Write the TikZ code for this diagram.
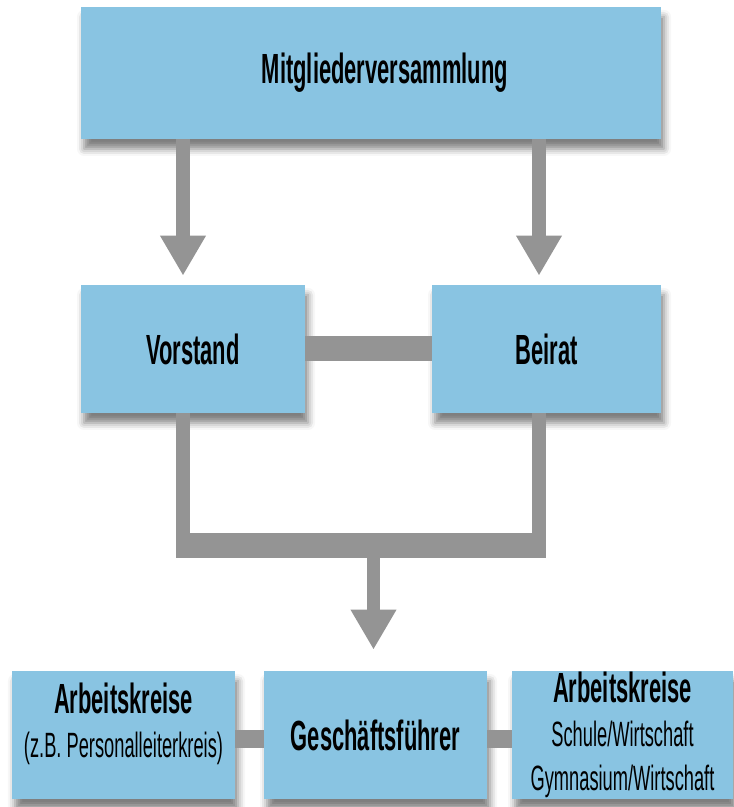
\documentclass[tikz,border=0pt]{standalone}
\usepackage{fontspec}
\setmainfont{Liberation Sans}[FakeStretch=0.52]
\usetikzlibrary{arrows.meta,shadows.blur}
\definecolor{boxblue}{RGB}{137,196,226}
\definecolor{pipegray}{RGB}{148,148,148}
\tikzset{
  box/.style={fill=boxblue,minimum height=2.56cm,align=center,inner sep=0pt,
    blur shadow={shadow xshift=0.06cm,shadow yshift=-0.2cm,shadow blur radius=0.14cm,shadow opacity=50},
    font=\fontsize{20}{25}\selectfont},
  pipe/.style={draw=pipegray,line width=0.28cm},
  thickpipe/.style={draw=pipegray,line width=0.5cm},
  thinpipe/.style={draw=pipegray,line width=0.36cm},
  arr/.style={pipe,-{Triangle[width=0.86cm,length=0.8cm]}}
}
\newcommand{\hd}[1]{{\bfseries\fontsize{24}{25}\selectfont #1}}
\begin{document}
\begin{tikzpicture}
  \useasboundingbox (0,0) rectangle (14.66,16.14);
  \node[box,minimum width=11.6cm,minimum height=2.64cm] (mv) at (7.42,14.68) {\hspace*{0.56cm}\hd{Mitgliederversammlung}};
  \node[box,minimum width=4.48cm] (vs) at (3.86,9.16) {\hd{Vorstand}};
  \node[box,minimum width=4.58cm] (br) at (10.93,9.16) {\hd{Beirat}};
  \node[box,minimum width=4.46cm] (ak1) at (2.47,1.44) {\hd{Arbeitskreise}\\(z.B. Personalleiterkreis)\\[-8pt]\mbox{}};
  \node[box,minimum width=4.46cm] (gf) at (7.51,1.44) {\hd{Geschäftsführer}};
  \node[box,minimum width=4.42cm] (ak2) at (12.45,1.44) {\hd{Arbeitskreise}\\Schule/Wirtschaft\\Gymnasium/Wirtschaft};
  \coordinate (lx) at (3.66,0);
  \coordinate (rx) at (10.78,0);
  \coordinate (mx) at (7.47,0);
  \coordinate (barl) at (3.52,5.23);
  \coordinate (barr) at (10.92,5.23);
  \coordinate (low) at (0,1.36);
  \draw[arr,shorten >=0.18cm] (lx |- mv.south) -- (lx |- vs.north);
  \draw[arr,shorten >=0.18cm] (rx |- mv.south) -- (rx |- br.north);
  \draw[thickpipe] (vs) -- (br);
  \draw[pipe] (lx |- vs.south) -- (lx |- barl);
  \draw[pipe] (rx |- br.south) -- (rx |- barr);
  \draw[thickpipe] (barl) -- (barr);
  \draw[arr,line width=0.26cm,shorten >=0.42cm] (mx |- barl) -- (mx |- gf.north);
  \draw[thinpipe] (ak1.east |- low) -- (gf.west |- low);
  \draw[thinpipe] (gf.east |- low) -- (ak2.west |- low);
\end{tikzpicture}
\end{document}
